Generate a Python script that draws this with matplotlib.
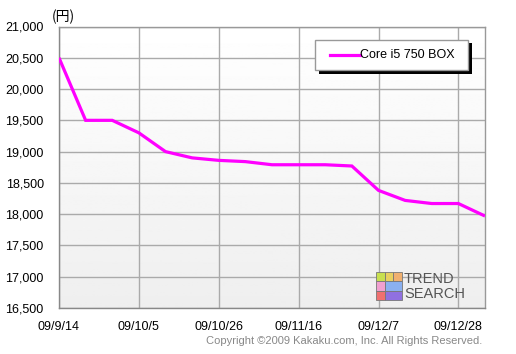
import numpy as np
import matplotlib
matplotlib.use("Agg")
import matplotlib.pyplot as plt
import datetime as dt
from matplotlib.patches import Rectangle

plt.rcParams['font.family'] = ['Liberation Sans', 'Noto Sans CJK JP', 'DejaVu Sans']

# ---- data ----
dates = [dt.date(2009, 9, 14) + dt.timedelta(weeks=i) for i in range(17)]
prices = [20500, 19500, 19500, 19300, 19000, 18900, 18860, 18840, 18790,
          18790, 18790, 18770, 18380, 18220, 18170, 18170, 17970]
series_name = "Core i5 750 BOX"
yticks = list(range(16500, 21001, 500))
xtick_dates = [dt.date(2009, 9, 14), dt.date(2009, 10, 5), dt.date(2009, 10, 26),
               dt.date(2009, 11, 16), dt.date(2009, 12, 7), dt.date(2009, 12, 28)]
xtick_labels = ["09/9/14", "09/10/5", "09/10/26", "09/11/16", "09/12/7", "09/12/28"]

W, H = 516, 354
fig = plt.figure(figsize=(W / 100, H / 100), dpi=100)
L, R, T, B = 59, 485, 26.5, 308
ax = fig.add_axes([L / W, 1 - B / H, (R - L) / W, (B - T) / H])

# gradient background
grad = np.linspace(1.0, 0.935, 256).reshape(-1, 1)
ax.imshow(grad, cmap='gray', vmin=0, vmax=1, aspect='auto',
          extent=[0, 1, 0, 1], transform=ax.transAxes, zorder=0)

ax.plot(dates, prices, color='#ff00ff', lw=2.3, solid_capstyle='butt',
        solid_joinstyle='miter', zorder=3, label=series_name)

ax.set_xlim(dates[0], dates[-1])
ax.set_ylim(16500, 21000)
ax.set_yticks(yticks)
ax.set_yticklabels([f"{v:,}" for v in yticks], fontsize=9)
ax.set_xticks(xtick_dates)
ax.set_xticklabels(xtick_labels, fontsize=9)
ax.tick_params(length=0, colors='black')
ax.tick_params(axis='y', pad=11)
ax.tick_params(axis='x', pad=9)
ax.grid(True, color='#aaaaaa', lw=1)
ax.set_axisbelow(True)
for s in ax.spines.values():
    s.set_color('#999999')
    s.set_linewidth(1)
ax.spines['left'].set_color('#888888')
ax.spines['bottom'].set_color('#888888')

fig.text(52 / W, 1 - 16.5 / H, "(円)", fontsize=10, va='center', ha='left',
         family=['Noto Sans CJK JP', 'DejaVu Sans'])

# legend with shadow
lx0, ly0, lx1, ly1 = 315, 39.5, 468, 70
sh = 3.5
fig.patches.append(Rectangle(((lx0 + sh) / W, 1 - (ly1 + sh) / H), (lx1 - lx0) / W,
                             (ly1 - ly0) / H, transform=fig.transFigure,
                             facecolor='black', edgecolor='none', zorder=5))
fig.patches.append(Rectangle((lx0 / W, 1 - ly1 / H), (lx1 - lx0) / W, (ly1 - ly0) / H,
                             transform=fig.transFigure, facecolor='white',
                             edgecolor='#999999', lw=1, zorder=6))
fig.lines.append(plt.Line2D([330 / W, 360 / W], [1 - 54.5 / H, 1 - 54.5 / H],
                            transform=fig.transFigure, color='#ff00ff', lw=2.3, zorder=7))
fig.text(360 / W, 1 - 54.5 / H, series_name, fontsize=9, va='center', ha='left', zorder=8)

# logo
cols = [((376, 272), (9, 9), '#c8e050'), ((385, 272), (8, 9), '#e8d060'),
        ((393, 272), (9, 9), '#f0b070'), ((376, 281), (9, 10), '#f0a0d0'),
        ((385, 281), (17, 10), '#8ab0f0'), ((376, 291), (9, 9), '#f07070'),
        ((385, 291), (17, 9), '#9070e0')]
for (x, y), (w, h), c in cols:
    fig.patches.append(Rectangle((x / W, 1 - (y + h) / H), w / W, h / H,
                                 transform=fig.transFigure, facecolor=c,
                                 edgecolor='#777777', lw=0.6, zorder=5))
fig.text(404 / W, 1 - 279 / H, "TREND", fontsize=10.5, color='#555555',
         va='center', ha='left', zorder=6)
fig.text(404 / W, 1 - 294 / H, "SEARCH", fontsize=10.5, color='#555555',
         va='center', ha='left', zorder=6)

fig.text(482 / W, 1 - 341 / H, "Copyright \u00a92009 Kakaku.com, Inc. All Rights Reserved.",
         fontsize=8, color='#888888', ha='right', va='center')

fig.savefig("out.png", dpi=100, facecolor='white')
